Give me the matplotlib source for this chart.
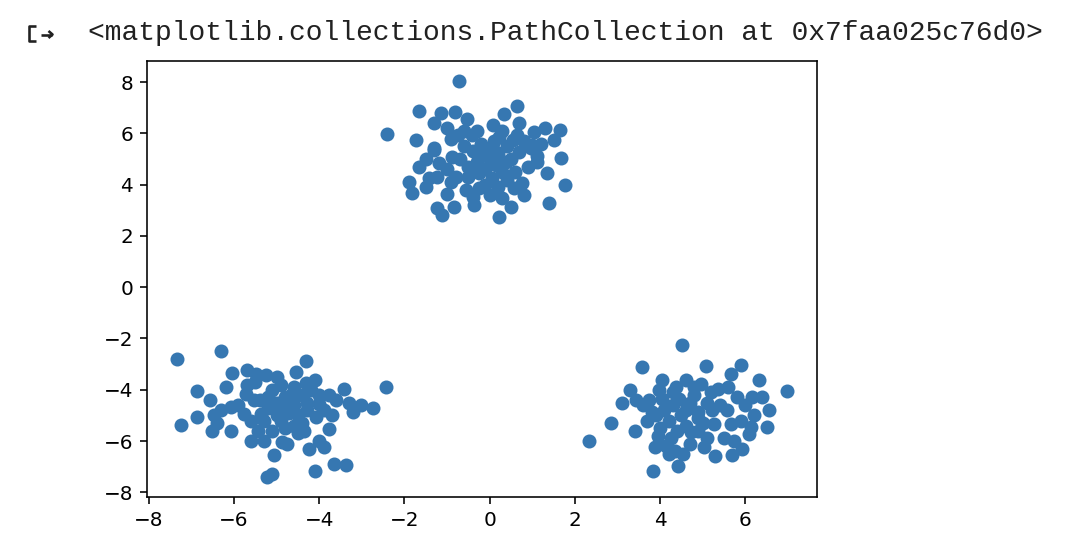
import matplotlib
matplotlib.use("Agg")
import matplotlib.pyplot as plt
from matplotlib.lines import Line2D

W, H, DPI = 1074, 556, 144

# points, one list per blob
top_x = [-0.72, -1.66, -1.15, -0.81, -0.54, -1.31, -1.74, -1.31, -0.41, 0.65, 0.34, 0.08,
         0.65, 1.04, 1.31, 1.64, 1.51, 1.00, 0.21, 0.06, -2.42, -1.31, -1.67, -1.89, -1.83,
         -1.23, -0.80, -0.99, -0.56, -0.84, -1.23, -1.11, -0.37, -0.25, -0.52, -0.88, -1.20,
         -1.43, 0.96, 1.12, 1.35, 1.67, 1.78, 1.39, 0.77, 0.49, 0.22, 0.56, 0.38, 0.06, 0.14,
         0.69, 0.30,
         -0.20, 0.00, 0.20, -0.40, 0.40, -0.10, 0.30, -0.30, 0.50, 0.10, -0.60, -0.70, 0.80,
         -0.20, 0.40, -0.50, 0.60, -0.10, 0.20, -0.90, -1.00, 0.90, -0.30, 0.30, 0.70, -0.60,
         -1.00, -0.90, 1.10, 0.00, -0.40, 0.80, -1.50, -1.50, -0.05, 0.15, -0.25, 0.55, -0.75,
         1.20]
top_y = [8.05, 6.89, 6.80, 6.82, 6.56, 6.42, 5.74, 5.43, 5.94, 7.07, 6.75, 6.33,
         5.94, 6.07, 6.20, 6.13, 5.74, 5.55, 5.87, 5.48, 5.98, 5.35, 4.70, 4.11, 3.66,
         4.31, 4.31, 3.62, 3.79, 3.14, 3.07, 2.81, 3.20, 3.86, 4.70, 5.09, 4.84,
         4.26, 5.42, 4.90, 4.44, 5.03, 3.98, 3.27, 4.05, 3.14, 2.75, 3.87, 4.90, 4.25, 5.29,
         5.29, 3.46,
         5.10, 5.00, 5.20, 5.30, 5.50, 4.60, 4.50, 4.90, 5.00, 5.70, 5.50, 5.00, 5.70,
         5.60, 4.20, 4.30, 4.50, 4.00, 3.90, 5.80, 4.60, 4.70, 6.10, 6.10, 6.40, 6.10,
         6.20, 4.10, 5.10, 3.60, 3.50, 3.60, 3.90, 5.00, 5.35, 4.75, 4.45, 5.75, 5.95,
         5.60]

left_x = [-7.33, -6.30, -6.04, -5.69, -5.49, -5.26, -6.86, -6.20, -6.56, -5.73, -6.08, -6.86,
          -7.25, -6.47, -6.51, -6.08, -5.61, -5.06, -5.22, -5.10, -5.77, -5.38, -5.53, -4.32,
          -4.55, -4.32, -3.42, -3.77, -2.44, -3.03, -2.75, -3.22, -4.01, -3.69, -4.08, -4.36,
          -3.77, -4.01, -3.89, -3.65, -3.38, -4.10, -4.87,
          -5.00, -4.80, -4.60, -4.40, -4.70, -5.20, -4.50, -4.90, -5.10, -4.30, -4.60, -4.20,
          -5.30, -4.80, -5.10, -4.40, -5.40, -4.90, -4.00, -4.70, -5.60, -5.00, -4.50, -3.90,
          -5.90, -5.70, -4.90, -4.60, -5.20, -4.30, -5.50, -6.40, -6.30, -3.60, -4.10, -5.00,
          -4.75, -5.30, -3.30, -4.65, -5.45, -4.25]
left_y = [-2.79, -2.50, -3.33, -3.24, -3.37, -3.44, -4.05, -3.89, -4.39, -4.15, -4.67, -5.07,
          -5.39, -5.00, -5.59, -5.59, -5.98, -6.56, -7.41, -7.28, -4.93, -4.93, -4.41, -2.88,
          -3.31, -3.75, -3.96, -4.22, -3.89, -4.61, -4.73, -4.87, -4.54, -5.00, -5.07, -5.59,
          -5.52, -5.98, -6.24, -6.89, -6.95, -7.15, -6.04,
          -4.50, -4.30, -4.60, -4.20, -4.90, -4.70, -5.00, -5.20, -4.00, -4.50, -3.90, -4.00,
          -5.20, -5.50, -5.60, -5.30, -4.40, -3.80, -4.20, -4.40, -5.20, -5.00, -5.70, -4.80,
          -4.60, -3.80, -4.70, -5.40, -4.30, -4.80, -3.70, -5.30, -4.80, -4.40, -3.60, -3.50,
          -6.10, -6.00, -4.50, -4.15, -5.60, -6.30]

right_x = [4.51, 3.57, 4.04, 3.97, 3.29, 3.44, 3.10, 2.86, 2.33, 3.41, 3.80, 3.88, 4.21,
           3.83, 4.41, 4.37, 4.60, 5.07, 5.89, 5.66, 6.32, 6.97, 6.17, 6.56, 6.52, 6.13,
           6.09, 5.93, 5.70, 5.74, 5.66, 5.58, 5.27, 5.03, 4.72, 5.35, 4.95, 5.23, 4.88,
           4.30, 4.50, 4.70, 4.20, 4.60, 4.90, 4.10, 4.40, 4.80, 4.00, 4.30, 5.10, 4.60,
           4.90, 3.90, 4.25, 4.70, 5.40, 5.00, 3.70, 4.45, 4.15, 5.50, 5.20, 3.60, 4.80,
           6.00, 6.20, 5.80, 5.90, 4.55, 5.30, 4.35, 3.95, 5.60, 6.40, 5.10, 4.05, 3.75]
right_y = [-2.27, -3.11, -3.63, -4.02, -4.02, -4.41, -4.52, -5.30, -6.00, -5.59, -4.87, -6.24,
           -6.50, -7.15, -6.99, -3.89, -3.63, -3.09, -3.05, -3.37, -3.63, -4.05, -4.28, -4.80,
           -5.46, -5.46, -5.72, -6.30, -6.56, -5.98, -5.32, -4.80, -5.32, -6.24, -5.65, -3.96,
           -3.76, -4.80, -4.87,
           -4.60, -5.00, -4.50, -5.20, -5.40, -5.10, -4.80, -5.60, -4.20, -5.50, -4.10, -4.50,
           -4.80, -5.60, -5.00, -5.90, -6.10, -4.60, -5.30, -5.20, -4.35, -6.20, -5.90, -4.10,
           -4.60, -3.90, -4.60, -5.00, -4.30, -5.20, -6.50, -6.60, -6.40, -5.80, -3.90, -4.30,
           -5.90, -4.35, -4.40]

xs = top_x + left_x + right_x
ys = top_y + left_y + right_y

fig = plt.figure(figsize=(W / DPI, H / DPI), dpi=DPI)


def fx(px):
    return px / W


def fy(py):
    return 1 - py / H


# colab output header: icon + repr text
icon_kw = dict(color="#212121", linewidth=1.3, solid_capstyle="butt")
fig.add_artist(Line2D([fx(36), fx(29), fx(29), fx(36)], [fy(26), fy(26), fy(41), fy(41)], **icon_kw))
fig.add_artist(Line2D([fx(41), fx(52)], [fy(34.5), fy(34.5)], **icon_kw))
fig.add_artist(Line2D([fx(48.5), fx(52.5), fx(48.5)], [fy(31), fy(34.5), fy(38)], **icon_kw))
fig.text(fx(88), fy(33), "<matplotlib.collections.PathCollection at 0x7faa025c76d0>",
         family="Liberation Mono", fontsize=14, color="#212121", va="center", ha="left")

ax = fig.add_axes([fx(147), fy(497), (817 - 147) / W, (497 - 61) / H])
ax.scatter(xs, ys, color="#3677b1")
ax.set_xticks([-8, -6, -4, -2, 0, 2, 4, 6])
ax.set_yticks([-8, -6, -4, -2, 0, 2, 4, 6, 8])

fig.savefig("out.png", dpi=DPI, facecolor="white")
